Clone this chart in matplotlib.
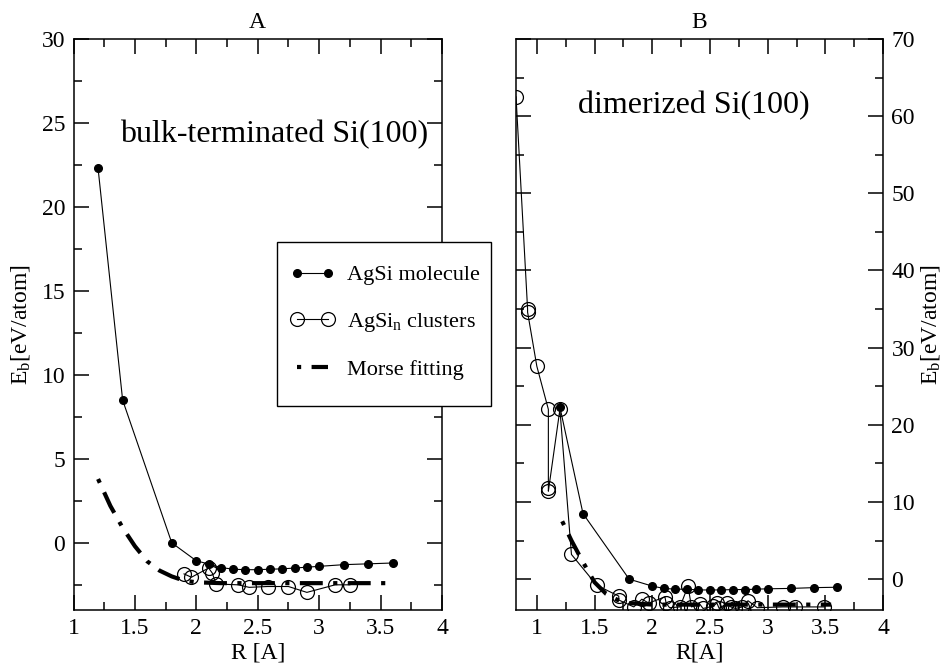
import matplotlib
matplotlib.use("Agg")
import matplotlib.pyplot as plt
from matplotlib.patches import Rectangle
from matplotlib.ticker import MultipleLocator

plt.rcParams['font.family'] = ['Liberation Serif', 'DejaVu Serif']
plt.rcParams['mathtext.fontset'] = 'custom'
plt.rcParams['mathtext.rm'] = 'Liberation Serif'
plt.rcParams['mathtext.it'] = 'Liberation Serif:italic'

# panel A: bulk-terminated Si(100)
mol_r_a = [1.2, 1.4, 1.8, 2.0, 2.1, 2.2, 2.3, 2.4, 2.5, 2.6, 2.7, 2.8, 2.9, 3.0, 3.2, 3.4, 3.6]
mol_e_a = [22.3, 8.5, 0.0, -1.07, -1.26, -1.47, -1.57, -1.6, -1.6, -1.57, -1.55, -1.5, -1.45, -1.4, -1.3, -1.25, -1.2]
clu_r_a = [1.9, 1.96, 2.1, 2.13, 2.16, 2.34, 2.43, 2.58, 2.75, 2.9, 3.13, 3.25]
clu_e_a = [-1.85, -2.05, -1.5, -1.8, -2.45, -2.5, -2.65, -2.6, -2.6, -2.95, -2.5, -2.5]
morse_r_a = [1.2, 1.3, 1.4, 1.5, 1.6, 1.7, 1.8, 1.9, 2.0, 2.2, 2.5, 3.0, 3.57]
morse_e_a = [3.8, 2.2, 0.9, -0.2, -1.1, -1.65, -2.0, -2.25, -2.35, -2.4, -2.4, -2.4, -2.4]

# panel B: dimerized Si(100)
mol_r_b = [1.2, 1.4, 1.8, 2.0, 2.1, 2.2, 2.3, 2.4, 2.5, 2.6, 2.7, 2.8, 2.9, 3.0, 3.2, 3.4, 3.6]
mol_e_b = [22.3, 8.5, 0.0, -0.9, -1.2, -1.3, -1.3, -1.4, -1.4, -1.4, -1.35, -1.35, -1.3, -1.25, -1.2, -1.1, -1.05]
clu_r_b = [0.82, 0.92, 0.92, 1.0, 1.1, 1.1, 1.1, 1.2, 1.3, 1.52, 1.71, 1.71, 1.84, 1.91, 1.97,
           2.11, 2.12, 2.15, 2.24, 2.31, 2.34, 2.41, 2.44, 2.53, 2.56, 2.58, 2.65, 2.68, 2.72,
           2.78, 2.83, 2.91, 3.13, 3.24, 3.49]
clu_e_b = [62.5, 35.0, 34.6, 27.6, 22.0, 11.8, 11.4, 22.0, 3.2, -0.8, -2.2, -2.7, -3.6, -2.6, -3.1,
           -2.3, -3.1, -3.7, -3.6, -0.9, -3.6, -3.2, -3.8, -3.5, -3.1, -3.8, -3.1, -3.6, -3.8,
           -3.6, -2.8, -3.7, -3.6, -3.6, -3.6]
morse_r_b = [1.22, 1.3, 1.4, 1.5, 1.6, 1.7, 1.8, 2.0, 2.5, 3.0, 3.55]
morse_e_b = [7.5, 5.0, 2.2, -0.4, -1.9, -2.7, -3.1, -3.3, -3.3, -3.3, -3.3]

xticks = [1, 1.5, 2, 2.5, 3, 3.5, 4]
xtick_labels = ['1', '1.5', '2', '2.5', '3', '3.5', '4']

fig = plt.figure(figsize=(9.46, 6.64), dpi=100)
ax1 = fig.add_axes([0.0777, 0.0813, 0.3895, 0.86])
ax2 = fig.add_axes([0.5455, 0.0813, 0.388, 0.86])

morse_dash = (0, (1, 2.5, 5.5, 2.5))


def draw(ax, mr, me, cr, ce, fr, fe):
    ax.plot(mr, me, '-', color='black', lw=0.8, marker='o', ms=5.5,
            mfc='black', mec='black', label='AgSi molecule')
    ax.plot(cr, ce, '-', color='black', lw=0.8, marker='o', ms=10,
            mfc='none', mec='black', mew=0.9, label='AgSi$_\\mathrm{n}$ clusters')
    ax.plot(fr, fe, color='black', lw=3, linestyle=morse_dash, label='Morse fitting')
    for s in ax.spines.values():
        s.set_linewidth(1.1)
    ax.tick_params(which='both', direction='in', top=True, right=True, left=True,
                   labelsize=17, width=1.1, pad=6)
    ax.tick_params(which='major', length=11)
    ax.tick_params(which='minor', length=6)
    ax.set_xticks(xticks)
    ax.set_xticklabels(xtick_labels)
    ax.xaxis.set_minor_locator(MultipleLocator(0.25))


draw(ax1, mol_r_a, mol_e_a, clu_r_a, clu_e_a, morse_r_a, morse_e_a)
draw(ax2, mol_r_b, mol_e_b, clu_r_b, clu_e_b, morse_r_b, morse_e_b)

ax1.set_xlim(1, 4)
ax1.set_ylim(-4, 30)
ax1.yaxis.set_major_locator(MultipleLocator(5))
ax1.yaxis.set_minor_locator(MultipleLocator(2.5))
ax1.set_xlabel('R [A]', fontsize=17, labelpad=2)
ax1.set_ylabel('E$_\\mathrm{b}$[eV/atom]', fontsize=17, labelpad=7)
ax1.set_title('A', fontsize=17, pad=8)
ax1.text(1.38, 24.3, 'bulk-terminated Si(100)', fontsize=23, va='center', ha='left')

ax2.set_xlim(0.82, 4)
ax2.set_ylim(-4, 70)
ax2.yaxis.set_major_locator(MultipleLocator(10))
ax2.yaxis.set_minor_locator(MultipleLocator(5))
ax2.yaxis.tick_right()
ax2.yaxis.set_label_position('right')
ax2.tick_params(which='both', left=True, right=True, labelleft=False, labelright=True)
ax2.set_xlabel('R[A]', fontsize=17, labelpad=2)
ax2.set_ylabel('E$_\\mathrm{b}$[eV/atom]', fontsize=17, labelpad=3)
ax2.set_title('B', fontsize=17, pad=8)
ax2.text(1.36, 61.4, 'dimerized Si(100)', fontsize=23, va='center', ha='left')

# legend box straddles the gap between the two panels
box = Rectangle((277 / 946, 1 - 406 / 664), 214 / 946, 164 / 664,
                transform=fig.transFigure, facecolor='white', edgecolor='black',
                lw=1.0, zorder=4)
fig.patches.append(box)

handles, labels = ax1.get_legend_handles_labels()
leg = fig.legend(handles, labels, loc='center left',
                 bbox_to_anchor=(290 / 946, 1 - 322.5 / 664),
                 fontsize=16, numpoints=2, frameon=False,
                 handlelength=2.0, labelspacing=1.15,
                 borderpad=0, borderaxespad=0, handletextpad=0.55)
leg.set_zorder(5)

fig.savefig('out.png', dpi=100)
